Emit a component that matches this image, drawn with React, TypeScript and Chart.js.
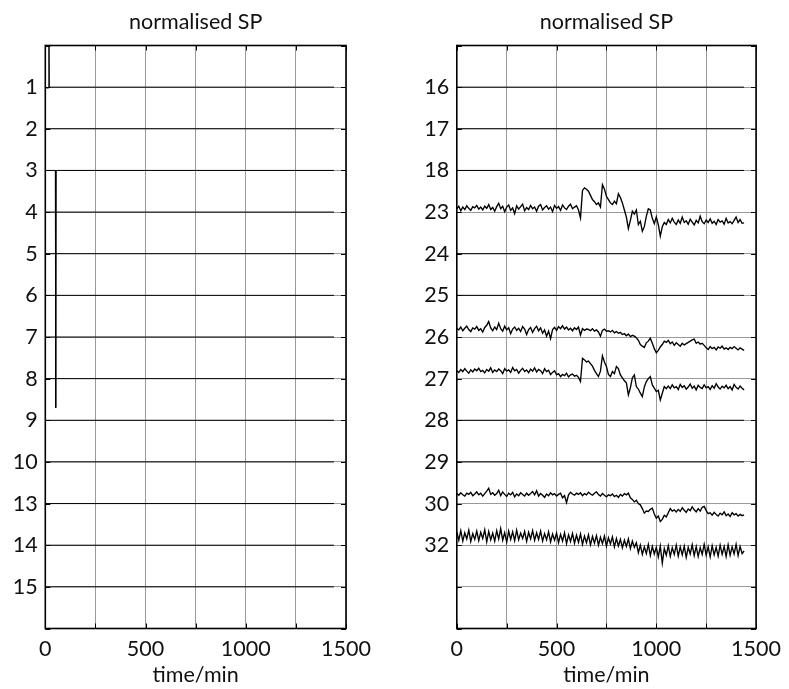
import React, { useEffect, useRef } from 'react';
import { Chart, registerables } from 'chart.js';

Chart.register(...registerables);

// ---------- data ----------
const xTickLabels = [0, 500, 1000, 1500];
const leftChannels = [1, 2, 3, 4, 5, 6, 7, 8, 9, 10, 13, 14, 15];
const rightChannels = [16, 17, 18, 23, 24, 25, 26, 27, 28, 29, 30, 32];
const TITLE = 'normalised SP';
const X_TITLE = 'time/min';

// flat (constant) channels
const flatTimes = [0, 1440];
const flatValues = [0, 0];

// channel 1 and 3: short excursions near the start
const ch1Times = [0, 16, 18, 20, 1440];
const ch1Values = [-0.02, -0.02, 1.5, 0, 0];
const ch3Times = [0, 50, 52, 54, 1440];
const ch3Values = [0, 0, -5.7, 0, 0];

// noisy channels, sampled every 10 min from 0 to 1440
const sampleTimes = Array.from({ length: 145 }, (_, i) => i * 10);

const sp23 = [
  0.08, 0.14, 0.03, 0.12, 0.06, 0.15, 0.09, 0.04, 0.13, 0.10,
  0.16, 0.07, 0.12, 0.05, 0.14, 0.09, 0.18, 0.06, 0.11, 0.02,
  0.13, 0.21, 0.08, 0.14, 0.01, 0.12, 0.17, 0.04, 0.10, -0.04,
  0.15, 0.07, 0.13, 0.19, 0.03, 0.11, 0.06, 0.16, 0.08, 0.12,
  0.02, 0.14, 0.18, 0.05, 0.11, 0.15, 0.07, 0.12, 0.01, 0.16,
  0.09, 0.13, 0.04, 0.17, 0.10, 0.06, 0.14, 0.19, 0.08, 0.12,
  0.15, 0.05, -0.14,
  0.52, 0.58, 0.55, 0.50, 0.40, 0.30, 0.25, 0.18, 0.22, 0.12,
  0.66, 0.55, 0.38, 0.30, 0.22, 0.18, 0.26, 0.20, 0.44, 0.35,
  0.22, 0.05, -0.12, -0.40, -0.20, 0.02, -0.05, 0.05, -0.30, -0.22,
  -0.46, -0.35, -0.10, 0.08, 0.05, -0.15, -0.28, -0.12, -0.30, -0.58,
  -0.35, -0.25, -0.30, -0.18,
  -0.26, -0.15, -0.24, -0.30, -0.19, -0.27, -0.12, -0.25, -0.21, -0.29,
  -0.17, -0.24, -0.31, -0.20, -0.26, -0.10, -0.23, -0.28, -0.19, -0.25,
  -0.16, -0.27, -0.22, -0.30, -0.18, -0.24, -0.21, -0.29, -0.15, -0.26,
  -0.23, -0.28, -0.20, -0.12, -0.25, -0.18, -0.27, -0.26,
];

const sp26 = [
  0.20, 0.17, 0.24, 0.15, 0.21, 0.26, 0.18, 0.13, 0.22, 0.19,
  0.25, 0.16, 0.20, 0.12, 0.23, 0.28, 0.37, 0.22, 0.15, 0.24,
  0.18, 0.33, 0.20, 0.14, 0.26, 0.17, 0.22, 0.08, 0.19, 0.24,
  0.16, 0.21, 0.13, 0.25, 0.19, 0.06, 0.18, 0.23, 0.11, 0.20,
  0.26, 0.15, 0.22, 0.09, 0.17, 0.02, 0.14, -0.04, 0.18, 0.23,
  0.16, 0.25, 0.20, 0.27, 0.19, 0.24,
  0.17, 0.21, 0.15, 0.22, 0.18, 0.24, 0.05, 0.20, 0.16, 0.19,
  0.18, 0.15, 0.20, 0.14, 0.17, 0.12, 0.02, 0.16, 0.19, 0.14,
  0.15, 0.12, 0.16, 0.10, 0.13, 0.09, 0.11, 0.06, 0.08, 0.03, 0.07, 0.01, 0.04,
  0.02, -0.02, -0.08, -0.18, -0.22, -0.25, -0.14, -0.10, -0.03, -0.15,
  -0.28, -0.38, -0.32, -0.24, -0.18, -0.10, -0.13, -0.08, -0.16, -0.12,
  -0.20, -0.14, -0.18, -0.22, -0.15, -0.19, -0.16, -0.13, -0.10, -0.07,
  -0.05, -0.15,
  -0.12, -0.17, -0.15, -0.20, -0.26, -0.30, -0.23, -0.28, -0.25, -0.31,
  -0.24, -0.27, -0.22, -0.29, -0.26, -0.30, -0.25, -0.28, -0.23, -0.27,
  -0.31, -0.26, -0.29, -0.32,
];

const sp27 = [
  0.19, 0.15, 0.22, 0.17, 0.24, 0.18, 0.13, 0.21, 0.16, 0.23,
  0.19, 0.25, 0.17, 0.20, 0.14, 0.22, 0.18, 0.26, 0.15, 0.21,
  0.17, 0.23, 0.19, 0.12, 0.24, 0.18, 0.21, 0.15, 0.27, 0.19,
  0.22, 0.13, 0.20, 0.25, 0.17, 0.21, 0.14, 0.23, 0.18, 0.26,
  0.16, 0.22, 0.19, 0.12, 0.24, 0.17, 0.20, 0.10, 0.15, 0.19,
  0.09, 0.12, 0.05, 0.10, 0.07, 0.13, 0.04, 0.09, 0.11, 0.06, 0.08, 0.03,
  -0.07, 0.49, 0.45, 0.40, 0.42, 0.36, 0.30, 0.20, 0.12, 0.05,
  0.18, 0.55, 0.40, 0.29, 0.10, 0.05, 0.17, 0.12, 0.29, 0.24,
  0.09, 0.02, -0.05, -0.10, -0.39, -0.22, 0.02, 0.09, -0.19, -0.25,
  -0.35, -0.43, -0.20, -0.07, 0.00, 0.05, -0.15, -0.23, -0.31, -0.28,
  -0.51, -0.35, -0.19, -0.24,
  -0.18, -0.24, -0.15, -0.22, -0.19, -0.26, -0.14, -0.21, -0.17, -0.25,
  -0.20, -0.13, -0.23, -0.18, -0.27, -0.16, -0.21, -0.24, -0.15, -0.22,
  -0.19, -0.26, -0.17, -0.23, -0.12, -0.20, -0.25, -0.18, -0.22, -0.16,
  -0.24, -0.19, -0.27, -0.14, -0.21, -0.25, -0.18, -0.23, -0.27,
];

const sp30 = [
  0.24, 0.20, 0.26, 0.21, 0.18, 0.25, 0.22, 0.27, 0.19, 0.23,
  0.28, 0.21, 0.25, 0.18, 0.24, 0.30, 0.37, 0.22, 0.26, 0.20,
  0.24, 0.32, 0.19, 0.28, 0.22, 0.17, 0.25, 0.21, 0.27, 0.16,
  0.23, 0.19, 0.26, 0.22, 0.18, 0.25, 0.20, 0.24, 0.29, 0.21,
  0.31, 0.18, 0.24, 0.20, 0.15, 0.23, 0.19, 0.26, 0.21, 0.24,
  0.18, 0.22, 0.25, 0.14, 0.19, 0.02, 0.21, 0.27, 0.23, 0.20,
  0.25, 0.22, 0.26, 0.19, 0.24, 0.21, 0.27, 0.23, 0.20, 0.25,
  0.28, 0.22, 0.18, 0.24, 0.20, 0.16, 0.21, 0.19, 0.23, 0.17,
  0.20, 0.15, 0.22, 0.18, 0.24, 0.21,
  0.25, 0.14, 0.10, 0.04, 0.08, 0.00, -0.03, -0.12,
  -0.23, -0.18, -0.19, -0.14, -0.11, -0.25, -0.35, -0.30, -0.43, -0.38,
  -0.28, -0.32, -0.22, -0.12, -0.18, -0.15, -0.20,
  -0.14, -0.19, -0.10, -0.16, -0.21, -0.13, -0.17, -0.08, -0.15, -0.20,
  -0.12, -0.18, -0.09, -0.07,
  -0.17, -0.24, -0.22, -0.28, -0.21, -0.26, -0.30, -0.23, -0.27, -0.20,
  -0.29, -0.25, -0.31, -0.22, -0.27, -0.24, -0.30, -0.26, -0.29, -0.27,
];

const sp32 = [
  0.32, 0.12, 0.35, 0.10, 0.30, 0.15, 0.36, 0.09, 0.28, 0.14,
  0.34, 0.11, 0.31, 0.16, 0.37, 0.08, 0.33, 0.13, 0.29, 0.10,
  0.35, 0.15, 0.40, 0.12, 0.30, 0.07, 0.34, 0.14, 0.32, 0.11,
  0.36, 0.13, 0.29, 0.16, 0.33, 0.09, 0.31, 0.15, 0.35, 0.12,
  0.30, 0.14, 0.34, 0.10, 0.28, 0.13, 0.32, 0.08, 0.27, 0.12,
  0.29, 0.06, 0.26, 0.10, 0.30, 0.04, 0.25, 0.09, 0.28, 0.05,
  0.24, 0.07, 0.27, 0.02, 0.22, 0.06, 0.25, 0.01, 0.21, 0.05,
  0.23, 0.00, 0.19, 0.04, 0.22, -0.02, 0.18, 0.03, 0.20, -0.04,
  0.16, -0.02, 0.14, -0.06, 0.12, -0.03, 0.15, -0.08, 0.10, -0.05,
  0.06, -0.18, 0.00, -0.22, -0.04, -0.20, 0.02, -0.25, -0.03, -0.21,
  -0.05, -0.28, -0.02, -0.43, -0.08, -0.24, -0.01, -0.27, -0.06, -0.22,
  0.00, -0.26, -0.04, -0.23, -0.02, -0.29, -0.05, -0.21, 0.01, -0.25,
  -0.03, -0.27, -0.06, -0.22, 0.02, -0.24, -0.04, -0.28, -0.01, -0.23,
  -0.05, -0.26, 0.00, -0.22, -0.03, -0.27, 0.01, -0.24, -0.04, -0.21,
  0.02, -0.25, -0.03, -0.20, -0.14,
];

type Trace = { times: number[]; values: number[]; noisy?: boolean };
const traces: Record<number, Trace> = {
  1: { times: ch1Times, values: ch1Values },
  3: { times: ch3Times, values: ch3Values },
  23: { times: sampleTimes, values: sp23, noisy: true },
  26: { times: sampleTimes, values: sp26, noisy: true },
  27: { times: sampleTimes, values: sp27, noisy: true },
  30: { times: sampleTimes, values: sp30, noisy: true },
  32: { times: sampleTimes, values: sp32, noisy: true },
};

// ---------- chart ----------
const FONT = 'Lato, Carlito, "DejaVu Sans", sans-serif';
const FONT_SIZE = 21.5;
const TICK_LEN = 5;

const framePlugin = {
  id: 'frame',
  afterDatasetsDraw(chart: any) {
    const { ctx, chartArea: a, scales } = chart;
    const xs = scales.x;
    const ys = scales.y;
    ctx.save();
    ctx.strokeStyle = '#000';
    ctx.lineWidth = 1;
    ctx.beginPath();
    xs.ticks.forEach((t: any) => {
      const px = Math.round(xs.getPixelForValue(t.value)) + 0.5;
      ctx.moveTo(px, a.bottom);
      ctx.lineTo(px, a.bottom - TICK_LEN);
      ctx.moveTo(px, a.top);
      ctx.lineTo(px, a.top + TICK_LEN);
    });
    ys.ticks.forEach((t: any) => {
      const py = Math.round(ys.getPixelForValue(t.value)) + 0.5;
      ctx.moveTo(a.left, py);
      ctx.lineTo(a.left + TICK_LEN, py);
      ctx.moveTo(a.right, py);
      ctx.lineTo(a.right - TICK_LEN, py);
    });
    ctx.stroke();
    ctx.lineWidth = 1.6;
    ctx.strokeRect(a.left, a.top, a.right - a.left, a.bottom - a.top);
    ctx.restore();
  },
};

function buildConfig(channels: number[], padRight: number, yWidth: number): any {
  const datasets = channels.map((ch, idx) => {
    const slot = idx + 1;
    const tr = traces[ch] || { times: flatTimes, values: flatValues };
    return {
      label: String(ch),
      data: tr.times.map((t, i) => ({ x: t, y: slot - tr.values[i] })),
      borderColor: '#000',
      borderWidth: tr.noisy ? 1.35 : 1,
      pointRadius: 0,
      tension: 0,
      fill: false,
    };
  });
  return {
    type: 'line',
    data: { datasets },
    plugins: [framePlugin],
    options: {
      responsive: false,
      animation: false,
      events: [],
      layout: { padding: { left: 0, right: padRight, top: 0, bottom: 0 } },
      plugins: {
        legend: { display: false },
        tooltip: { enabled: false },
        title: {
          display: true,
          text: TITLE,
          color: '#111',
          fullSize: false,
          font: { family: FONT, size: FONT_SIZE, weight: 'normal', lineHeight: 1.2 },
          padding: { top: 9, bottom: 10.7 },
        },
      },
      scales: {
        x: {
          type: 'linear',
          min: 0,
          max: 1500,
          afterFit: (s: any) => { s.height = 60.5; },
          ticks: {
            stepSize: 250,
            autoSkip: false,
            maxRotation: 0,
            padding: 8,
            color: '#111',
            font: { family: FONT, size: FONT_SIZE },
            callback: (v: number) => (xTickLabels.includes(v) ? String(v) : ''),
          },
          grid: { color: '#9a9a9a', lineWidth: 1, drawTicks: false },
          border: { display: false },
          title: {
            display: true,
            text: X_TITLE,
            color: '#111',
            font: { family: FONT, size: FONT_SIZE },
            padding: { top: 0, bottom: 1 },
          },
        },
        y: {
          type: 'linear',
          reverse: true,
          min: 0,
          max: 14,
          afterFit: (s: any) => { s.width = yWidth; },
          ticks: {
            stepSize: 1,
            autoSkip: false,
            padding: 7.5,
            color: '#111',
            font: { family: FONT, size: FONT_SIZE },
            callback: (v: number) => (v >= 1 && v <= channels.length ? String(channels[v - 1]) : ''),
          },
          grid: { color: '#9a9a9a', lineWidth: 1, drawTicks: false },
          border: { display: false },
        },
      },
    },
  };
}

export default function App() {
  const leftRef = useRef<HTMLCanvasElement>(null);
  const rightRef = useRef<HTMLCanvasElement>(null);

  useEffect(() => {
    const c1 = new Chart(leftRef.current as HTMLCanvasElement, buildConfig(leftChannels, 48, 45.3));
    const c2 = new Chart(rightRef.current as HTMLCanvasElement, buildConfig(rightChannels, 29.5, 45.8));
    return () => {
      c1.destroy();
      c2.destroy();
    };
  }, []);

  return (
    <div style={{ position: 'fixed', left: 0, top: 0, width: 789, height: 689, background: '#fff' }}>
      <canvas ref={leftRef} width={394} height={689} style={{ position: 'absolute', left: 0, top: 0, width: 394, height: 689 }} />
      <canvas ref={rightRef} width={378} height={689} style={{ position: 'absolute', left: 411, top: 0, width: 378, height: 689 }} />
    </div>
  );
}
